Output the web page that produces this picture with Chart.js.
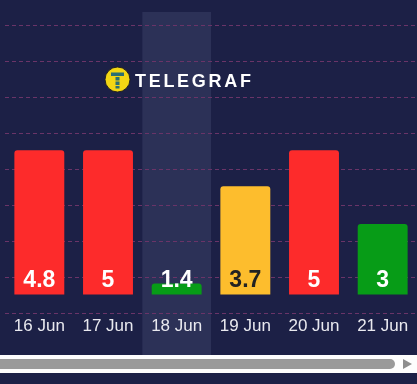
<!DOCTYPE html>
<html>
<head>
<meta charset="utf-8">
<script src="https://cdn.jsdelivr.net/npm/chart.js@4.4.1/dist/chart.umd.min.js"></script>
<style>
  body { margin: 0; background: #1c2046; }
  #wrap { position: relative; width: 417px; height: 384px; }
  .scroll { position: absolute; left: 0; top: 355px; width: 417px; height: 18px; background: #fdfdfd; }
  .thumb { position: absolute; left: 0; top: 4px; width: 395px; height: 10px; background: #9a9a9a; border-radius: 0 5px 5px 0; }
  .arrow { position: absolute; left: 403px; top: 3.5px; width: 0; height: 0;
           border-top: 5.5px solid transparent; border-bottom: 5.5px solid transparent; border-left: 9px solid #8e8e8e; }
</style>
</head>
<body>
<div id="wrap">
  <canvas id="chart" width="417" height="384"></canvas>
  <div class="scroll"><div class="thumb"></div><div class="arrow"></div></div>
</div>
<script>
const days = ['16 Jun', '17 Jun', '18 Jun', '19 Jun', '20 Jun', '21 Jun']
const values = [4.8, 5, 1.4, 3.7, 5, 3]          // numbers printed on the bars
const barHeights = [4, 4, 0.3, 3, 4, 1.95]       // drawn height in grid steps
const barBase = 0.53
const barColors = ['#fd2b2b', '#fd2b2b', '#079c17', '#fdbd2d', '#fd2b2b', '#079c17']
const labelColors = ['#ffffff', '#ffffff', '#ffffff', '#222222', '#ffffff', '#ffffff']
const activeIndex = 2

const BG = '#1c2046'

const backdrop = {
    id: 'backdrop',
    beforeDraw(chart) {
        const { ctx, scales: { x } } = chart
        const w = x.getPixelForValue(1) - x.getPixelForValue(0)
        const cx = x.getPixelForValue(activeIndex)
        ctx.save()
        ctx.fillStyle = BG
        ctx.fillRect(0, 0, chart.width, chart.height)
        ctx.fillStyle = '#2c3157'
        ctx.fillRect(cx - w / 2, 12, w, 343)
        ctx.restore()
    }
}

const barLabels = {
    id: 'barLabels',
    afterDatasetsDraw(chart) {
        const { ctx } = chart
        ctx.save()
        ctx.font = 'bold 23px "Liberation Sans", Arial, sans-serif'
        ctx.textAlign = 'center'
        ctx.textBaseline = 'alphabetic'
        chart.getDatasetMeta(0).data.forEach((bar, i) => {
            ctx.fillStyle = labelColors[i]
            ctx.fillText(String(values[i]), bar.x, bar.base - 7)
        })
        ctx.restore()
    }
}

const logo = {
    id: 'logo',
    afterDraw(chart) {
        const { ctx } = chart
        const cx = 117.5, cy = 79.5
        ctx.save()
        ctx.beginPath()
        ctx.arc(cx, cy, 12.5, 0, Math.PI * 2)
        ctx.fillStyle = '#f3d614'
        ctx.fill()
        ctx.lineWidth = 1
        ctx.strokeStyle = '#202020'
        ctx.stroke()
        ctx.fillStyle = '#2b6f73'
        ctx.fillRect(cx - 6.5, cy - 7, 13, 3.5)
        ctx.fillRect(cx - 2, cy - 2.5, 4, 3.5)
        ctx.fillRect(cx - 2, cy + 2, 4, 3.5)
        ctx.fillRect(cx - 2, cy + 6.5, 4, 2.5)
        // wordmark, spaced out letter by letter
        ctx.font = 'bold 18px "Liberation Sans", Arial, sans-serif'
        ctx.fillStyle = '#ffffff'
        ctx.textBaseline = 'alphabetic'
        let px = 135
        for (const ch of 'TELEGRAF') {
            ctx.fillText(ch, px, 87)
            px += ctx.measureText(ch).width + 2.7
        }
        ctx.restore()
    }
}

new Chart(document.getElementById('chart'), {
    type: 'bar',
    data: {
        labels: days,
        datasets: [{
            data: barHeights.map(h => [barBase, barBase + h]),
            backgroundColor: barColors,
            borderRadius: 3,
            borderSkipped: 'start',
            barPercentage: 0.727,
            categoryPercentage: 1
        }]
    },
    options: {
        responsive: false,
        animation: false,
        layout: { padding: { top: 25, left: 5, right: 0, bottom: 52.1 } },
        plugins: {
            legend: { display: false },
            tooltip: { enabled: false }
        },
        scales: {
            x: {
                grid: { display: false },
                border: { display: false },
                ticks: {
                    color: '#e9e9ef',
                    padding: -5,
                    font: { family: '"Liberation Sans", Arial, sans-serif', size: 17 }
                }
            },
            y: {
                min: 0,
                max: 8,
                ticks: { display: false, stepSize: 1 },
                grid: { color: '#6a3468', drawTicks: false },
                border: { display: false, dash: [4, 3] }
            }
        }
    },
    plugins: [backdrop, barLabels, logo]
})
</script>
</body>
</html>
